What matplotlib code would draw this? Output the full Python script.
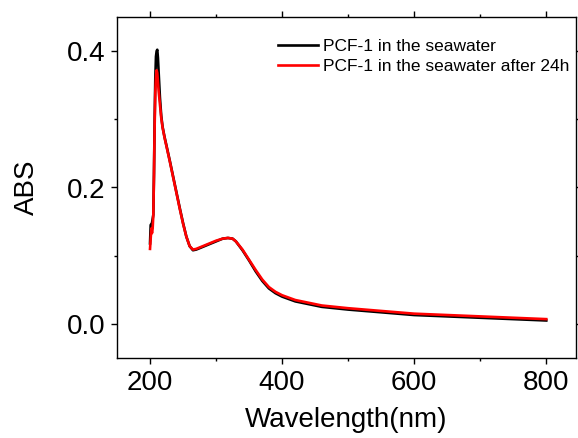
import matplotlib
matplotlib.use("Agg")
import matplotlib.pyplot as plt
from matplotlib.ticker import MultipleLocator

plt.rcParams['font.family'] = ['Liberation Sans', 'DejaVu Sans']

# Data
wl_black = [200, 201, 203, 205, 206, 207, 208, 209, 210, 211, 212, 213, 215, 217, 219,
            222, 225, 230, 235, 240, 245, 250, 255, 260, 265, 270, 280, 290, 300, 310,
            318, 325, 330, 340, 350, 360, 370, 380, 390, 400, 420, 440, 460, 480, 500,
            550, 600, 650, 700, 750, 800]
abs_black = [0.118, 0.145, 0.148, 0.160, 0.220, 0.300, 0.360, 0.392, 0.400, 0.402, 0.390, 0.370,
             0.332, 0.305, 0.289, 0.274, 0.261, 0.239, 0.216, 0.193, 0.170, 0.148, 0.128,
             0.114, 0.108, 0.109, 0.113, 0.117, 0.121, 0.125, 0.126, 0.125, 0.121, 0.108,
             0.093, 0.077, 0.063, 0.052, 0.045, 0.040, 0.033, 0.029, 0.025, 0.023, 0.021,
             0.017, 0.013, 0.011, 0.009, 0.007, 0.005]

wl_red = [200, 201, 202, 203, 204, 205, 206, 207, 208, 209, 210, 211, 212, 213, 215, 217,
          219, 222, 225, 230, 235, 240, 245, 250, 255, 260, 265, 270, 280, 290, 300, 310,
          318, 325, 330, 340, 350, 360, 370, 380, 390, 400, 420, 440, 460, 480, 500,
          550, 600, 650, 700, 750, 800]
abs_red = [0.110, 0.125, 0.140, 0.133, 0.140, 0.160, 0.220, 0.290, 0.340, 0.362, 0.372, 0.368,
           0.355, 0.342, 0.322, 0.302, 0.288, 0.273, 0.260, 0.238, 0.215, 0.192, 0.169,
           0.147, 0.128, 0.114, 0.109, 0.110, 0.114, 0.118, 0.122, 0.125, 0.126, 0.125,
           0.121, 0.109, 0.094, 0.079, 0.065, 0.054, 0.047, 0.042, 0.035, 0.031, 0.027,
           0.025, 0.023, 0.019, 0.015, 0.013, 0.011, 0.009, 0.007]

labels = ['PCF-1 in the seawater', 'PCF-1 in the seawater after 24h']
x_ticks = [200, 400, 600, 800]
y_ticks = [0.0, 0.2, 0.4]

fig = plt.figure(figsize=(5.78, 4.38), dpi=100)
ax = fig.add_axes([117/578, 80/438, 459/578, 341/438])

ax.plot(wl_black, abs_black, color='black', lw=1.9, label=labels[0])
ax.plot(wl_red, abs_red, color='#ff0000', lw=1.9, label=labels[1])

ax.set_xlim(150, 845)
ax.set_ylim(-0.05, 0.45)
ax.set_xticks(x_ticks)
ax.set_yticks(y_ticks)
ax.set_yticklabels([f'{v:.1f}' for v in y_ticks])
ax.xaxis.set_minor_locator(MultipleLocator(100))
ax.yaxis.set_minor_locator(MultipleLocator(0.1))

ax.tick_params(which='both', direction='out', top=True, right=True,
               labeltop=False, labelright=False, width=1.0, labelsize=20, pad=4)
ax.tick_params(which='major', length=4.5)
ax.tick_params(which='minor', length=2.5)
for s in ax.spines.values():
    s.set_linewidth(1.0)

ax.set_xlabel('Wavelength(nm)', fontsize=20, labelpad=8)
ax.set_ylabel('ABS', fontsize=20, labelpad=19)

leg = ax.legend(loc='upper left', bbox_to_anchor=(278/578, 1 - 39/438),
                bbox_transform=fig.transFigure, frameon=False, fontsize=12.5,
                handlelength=2.3, handletextpad=0.3, borderpad=0, borderaxespad=0,
                labelspacing=0.25)

fig.savefig('out.png', dpi=100)
